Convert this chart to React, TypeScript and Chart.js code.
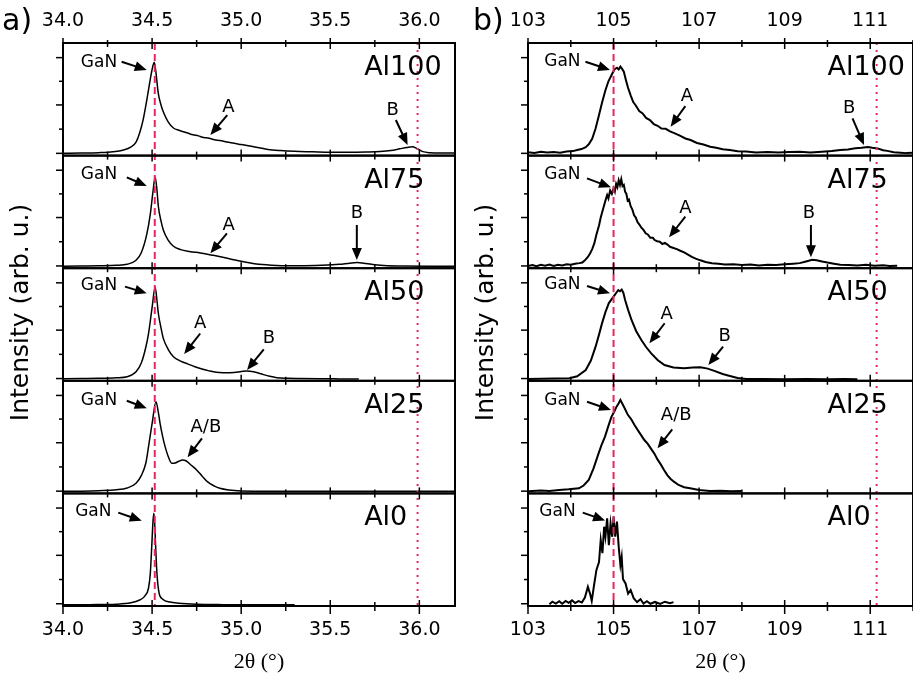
import React, { useEffect, useRef } from 'react';
import { Chart, registerables } from 'chart.js';

Chart.register(...registerables);

// ---------- categories ----------
const SAMPLE_NAMES = ['Al100', 'Al75', 'Al50', 'Al25', 'Al0'];

// ---------- panel a (GaN (002) region) ----------
const A_X_MAJOR = [34.0, 34.5, 35.0, 35.5, 36.0];
const A_X_MINOR = [34.25, 34.75, 35.25, 35.75];
const A_REF_DASH = 34.515;
const A_REF_DOT = 35.99;

const A_AL100_X = [34.0, 34.1, 34.2, 34.28, 34.34, 34.38, 34.41, 34.43, 34.45, 34.47, 34.49, 34.505, 34.512, 34.52, 34.535, 34.55, 34.565, 34.59, 34.62, 34.65, 34.68, 34.7, 34.73, 34.76, 34.79, 34.82, 34.85, 34.88, 34.92, 34.96, 35.0, 35.05, 35.1, 35.15, 35.22, 35.3, 35.4, 35.5, 35.6, 35.7, 35.78, 35.84, 35.89, 35.93, 35.96, 35.99, 36.02, 36.06, 36.12, 36.2];
const A_AL100_Y = [0.02, 0.022, 0.026, 0.034, 0.05, 0.075, 0.12, 0.2, 0.32, 0.49, 0.68, 0.8, 0.83, 0.76, 0.55, 0.45, 0.38, 0.3, 0.245, 0.225, 0.21, 0.2, 0.185, 0.175, 0.16, 0.155, 0.14, 0.135, 0.12, 0.11, 0.098, 0.085, 0.07, 0.055, 0.045, 0.038, 0.034, 0.03, 0.03, 0.032, 0.036, 0.045, 0.06, 0.072, 0.079, 0.06, 0.035, 0.025, 0.022, 0.022];

const A_AL75_X = [34.0, 34.1, 34.2, 34.3, 34.36, 34.41, 34.44, 34.47, 34.49, 34.505, 34.517, 34.527, 34.535, 34.55, 34.563, 34.59, 34.62, 34.66, 34.71, 34.77, 34.83, 34.89, 34.95, 35.02, 35.1, 35.2, 35.33, 35.45, 35.55, 35.61, 35.65, 35.7, 35.75, 35.82, 35.9, 36.05, 36.2];
const A_AL75_Y = [0.018, 0.02, 0.022, 0.026, 0.035, 0.07, 0.14, 0.3, 0.48, 0.68, 0.81, 0.7, 0.55, 0.42, 0.34, 0.25, 0.195, 0.165, 0.148, 0.135, 0.118, 0.1, 0.078, 0.055, 0.035, 0.025, 0.022, 0.026, 0.034, 0.045, 0.05, 0.042, 0.03, 0.022, 0.02, 0.018, 0.018];

const A_AL50_X = [34.0, 34.1, 34.2, 34.3, 34.36, 34.41, 34.44, 34.465, 34.48, 34.5, 34.517, 34.527, 34.535, 34.55, 34.563, 34.59, 34.62, 34.66, 34.7, 34.74, 34.78, 34.82, 34.86, 34.9, 34.96, 35.0, 35.03, 35.07, 35.11, 35.16, 35.2, 35.26, 35.33, 35.45, 35.55, 35.66];
const A_AL50_Y = [0.018, 0.02, 0.022, 0.027, 0.036, 0.08, 0.16, 0.3, 0.42, 0.65, 0.83, 0.72, 0.6, 0.47, 0.377, 0.28, 0.214, 0.175, 0.15, 0.125, 0.105, 0.088, 0.075, 0.072, 0.074, 0.082, 0.087, 0.08, 0.062, 0.04, 0.028, 0.022, 0.02, 0.018, 0.017, 0.016];

const A_AL25_X = [34.0, 34.1, 34.2, 34.3, 34.36, 34.41, 34.44, 34.465, 34.48, 34.5, 34.522, 34.535, 34.545, 34.56, 34.573, 34.59, 34.61, 34.63, 34.65, 34.67, 34.69, 34.72, 34.75, 34.78, 34.81, 34.85, 34.88, 34.93, 35.0, 35.2, 35.5, 35.8, 36.2];
const A_AL25_Y = [0.018, 0.02, 0.024, 0.032, 0.048, 0.09, 0.16, 0.27, 0.415, 0.62, 0.814, 0.72, 0.62, 0.5, 0.415, 0.33, 0.267, 0.27, 0.285, 0.297, 0.29, 0.25, 0.208, 0.155, 0.104, 0.065, 0.045, 0.03, 0.022, 0.019, 0.018, 0.018, 0.018];

const A_AL0_X = [34.0, 34.15, 34.3, 34.38, 34.43, 34.46, 34.48, 34.49, 34.498, 34.505, 34.51, 34.515, 34.52, 34.525, 34.53, 34.54, 34.56, 34.6, 34.65, 34.75, 34.9, 35.1, 35.3];
const A_AL0_Y = [0.01, 0.012, 0.016, 0.028, 0.053, 0.09, 0.16, 0.29, 0.527, 0.75, 0.823, 0.72, 0.527, 0.35, 0.23, 0.11, 0.06, 0.035, 0.025, 0.016, 0.012, 0.01, 0.01];

// ---------- panel b (GaN (004) region) ----------
const B_X_MAJOR = [103, 105, 107, 109, 111];
const B_X_MINOR = [104, 106, 108, 110, 112];
const B_REF_DASH = 105.0;
const B_REF_DOT = 111.15;

const B_AL100_X = [103.0, 103.15, 103.3, 103.45, 103.6, 103.75, 103.9, 104.05, 104.15, 104.25, 104.35, 104.42, 104.5, 104.58, 104.66, 104.73, 104.81, 104.88, 104.96, 105.02, 105.08, 105.12, 105.16, 105.2, 105.24, 105.29, 105.34, 105.4, 105.46, 105.52, 105.6, 105.68, 105.76, 105.85, 105.94, 106.03, 106.12, 106.22, 106.32, 106.42, 106.55, 106.68, 106.8, 106.95, 107.1, 107.26, 107.4, 107.55, 107.72, 107.9, 108.1, 108.33, 108.6, 108.85, 109.1, 109.35, 109.6, 109.87, 110.1, 110.3, 110.48, 110.65, 110.8, 110.94, 111.05, 111.17, 111.3, 111.4, 111.55, 111.71, 111.85, 112.0];
const B_AL100_Y = [0.03, 0.024, 0.034, 0.028, 0.031, 0.026, 0.036, 0.04, 0.05, 0.058, 0.075, 0.1, 0.15, 0.24, 0.36, 0.47, 0.58, 0.66, 0.72, 0.765, 0.78, 0.765, 0.79, 0.77, 0.745, 0.67, 0.6, 0.535, 0.475, 0.445, 0.395, 0.375, 0.335, 0.315, 0.28, 0.265, 0.24, 0.238, 0.215, 0.2, 0.178, 0.152, 0.138, 0.112, 0.098, 0.078, 0.07, 0.056, 0.05, 0.038, 0.036, 0.028, 0.033, 0.027, 0.031, 0.034, 0.028, 0.035, 0.04, 0.05, 0.055, 0.066, 0.07, 0.077, 0.07, 0.064, 0.048, 0.042, 0.03, 0.026, 0.022, 0.025];

const B_AL75_X = [103.0, 103.1, 103.2, 103.3, 103.4, 103.5, 103.6, 103.7, 103.8, 103.9, 104.0, 104.1, 104.2, 104.27, 104.33, 104.4, 104.45, 104.5, 104.55, 104.6, 104.66, 104.7, 104.75, 104.81, 104.85, 104.88, 104.92, 104.96, 105.0, 105.03, 105.06, 105.09, 105.12, 105.15, 105.18, 105.21, 105.24, 105.27, 105.3, 105.33, 105.36, 105.4, 105.44, 105.48, 105.52, 105.56, 105.6, 105.65, 105.7, 105.75, 105.8, 105.86, 105.92, 105.96, 106.02, 106.08, 106.14, 106.2, 106.26, 106.32, 106.4, 106.48, 106.56, 106.65, 106.74, 106.83, 106.92, 107.03, 107.15, 107.3, 107.45, 107.6, 107.8, 108.0, 108.2, 108.4, 108.6, 108.8, 109.0, 109.2, 109.35, 109.5, 109.64, 109.75, 109.87, 110.0, 110.15, 110.3, 110.5, 110.7, 110.9, 111.1, 111.3, 111.45, 111.63];
const B_AL75_Y = [0.02, 0.028, 0.018, 0.03, 0.022, 0.032, 0.02, 0.03, 0.025, 0.035, 0.03, 0.04, 0.045, 0.05, 0.07, 0.1, 0.13, 0.17, 0.22, 0.3, 0.38, 0.45, 0.52, 0.6, 0.65, 0.62, 0.69, 0.66, 0.71, 0.68, 0.75, 0.72, 0.78, 0.74, 0.79, 0.73, 0.74, 0.68, 0.66, 0.6, 0.61, 0.55, 0.52, 0.47, 0.45, 0.41, 0.39, 0.36, 0.34, 0.31, 0.3, 0.27, 0.27, 0.25, 0.24, 0.235, 0.215, 0.225, 0.21, 0.19, 0.18, 0.17, 0.155, 0.14, 0.12, 0.1, 0.085, 0.07, 0.055, 0.045, 0.04, 0.032, 0.035, 0.028, 0.033, 0.025, 0.03, 0.028, 0.035, 0.04, 0.045, 0.06, 0.075, 0.07, 0.06, 0.05, 0.04, 0.03, 0.028, 0.025, 0.03, 0.022, 0.026, 0.02, 0.022];

const B_AL50_X = [103.0, 103.3, 103.6, 103.97, 104.15, 104.35, 104.47, 104.58, 104.66, 104.73, 104.81, 104.89, 105.0, 105.06, 105.11, 105.15, 105.19, 105.23, 105.27, 105.34, 105.42, 105.53, 105.65, 105.76, 105.88, 106.03, 106.19, 106.4, 106.65, 106.85, 107.03, 107.2, 107.34, 107.55, 107.72, 107.9, 108.1, 108.5, 109.0, 109.5, 110.0, 110.4, 110.7];
const B_AL50_Y = [0.015, 0.018, 0.02, 0.022, 0.04, 0.096, 0.18, 0.303, 0.41, 0.51, 0.61, 0.69, 0.747, 0.78, 0.806, 0.795, 0.81, 0.78, 0.718, 0.63, 0.54, 0.44, 0.362, 0.3, 0.244, 0.185, 0.14, 0.118, 0.111, 0.118, 0.12, 0.108, 0.09, 0.06, 0.043, 0.025, 0.015, 0.016, 0.014, 0.016, 0.014, 0.015, 0.014];

const B_AL25_X = [103.0, 103.3, 103.5, 103.73, 103.95, 104.19, 104.3, 104.42, 104.53, 104.65, 104.72, 104.8, 104.88, 104.95, 105.01, 105.07, 105.12, 105.16, 105.2, 105.26, 105.33, 105.41, 105.49, 105.57, 105.64, 105.72, 105.8, 105.87, 105.95, 106.03, 106.1, 106.18, 106.26, 106.33, 106.41, 106.52, 106.65, 106.79, 107.0, 107.25, 107.5, 107.75, 107.99];
const B_AL25_Y = [0.02, 0.025, 0.022, 0.03, 0.036, 0.045, 0.07, 0.119, 0.22, 0.356, 0.43, 0.504, 0.6, 0.68, 0.72, 0.77, 0.8, 0.83, 0.8, 0.756, 0.7, 0.66, 0.607, 0.56, 0.52, 0.474, 0.44, 0.4, 0.356, 0.3, 0.26, 0.208, 0.16, 0.13, 0.104, 0.075, 0.055, 0.045, 0.03, 0.021, 0.024, 0.02, 0.022];

const B_AL0_X = [103.5, 103.57, 103.65, 103.73, 103.8, 103.88, 103.95, 104.03, 104.1, 104.18, 104.26, 104.33, 104.4, 104.45, 104.49, 104.55, 104.6, 104.66, 104.7, 104.74, 104.78, 104.81, 104.85, 104.89, 104.93, 104.97, 105.0, 105.04, 105.08, 105.12, 105.16, 105.19, 105.22, 105.28, 105.34, 105.4, 105.47, 105.55, 105.63, 105.7, 105.78, 105.86, 105.97, 106.09, 106.2, 106.32, 106.4];
const B_AL0_Y = [0.015, 0.038, 0.022, 0.042, 0.02, 0.045, 0.028, 0.05, 0.026, 0.044, 0.032, 0.075, 0.17, 0.11, 0.045, 0.2, 0.32, 0.39, 0.586, 0.47, 0.704, 0.615, 0.778, 0.54, 0.734, 0.615, 0.793, 0.615, 0.75, 0.527, 0.364, 0.438, 0.24, 0.2, 0.11, 0.142, 0.07, 0.035, 0.06, 0.022, 0.042, 0.02, 0.036, 0.018, 0.038, 0.024, 0.034];

// y tick values inside each sub-plot (arbitrary units)
const Y_TICKS = [0.02, 0.235, 0.45, 0.66, 0.87];

// annotations: [subplot, text, textX, textY, arrowFromX, arrowFromY, arrowToX, arrowToY] in data units
type Note = [number, string, number, number, number, number, number, number];
const A_NOTES: Note[] = [
  [0, 'GaN', 34.2017, 0.83, 34.329, 0.834, 34.47, 0.76],
  [0, 'A', 34.928, 0.43, 34.922, 0.36, 34.827, 0.183],
  [0, 'B', 35.85, 0.405, 35.868, 0.316, 35.934, 0.094],
  [1, 'GaN', 34.2017, 0.828, 34.358, 0.807, 34.47, 0.73],
  [1, 'A', 34.93, 0.384, 34.92, 0.31, 34.827, 0.132],
  [1, 'B', 35.649, 0.488, 35.649, 0.384, 35.649, 0.073],
  [2, 'GaN', 34.2017, 0.85, 34.348, 0.836, 34.47, 0.777],
  [2, 'A', 34.77, 0.51, 34.77, 0.42, 34.68, 0.238],
  [2, 'B', 35.155, 0.377, 35.127, 0.28, 35.033, 0.096],
  [3, 'GaN', 34.2017, 0.823, 34.358, 0.823, 34.47, 0.756],
  [3, 'A/B', 34.802, 0.587, 34.78, 0.489, 34.699, 0.32],
  [4, 'GaN', 34.17, 0.837, 34.31, 0.829, 34.442, 0.758],
];
const B_NOTES: Note[] = [
  [0, 'GaN', 103.805, 0.834, 104.343, 0.834, 104.917, 0.76],
  [0, 'A', 106.717, 0.523, 106.678, 0.44, 106.333, 0.257],
  [0, 'B', 110.51, 0.42, 110.586, 0.331, 110.855, 0.094],
  [1, 'GaN', 103.805, 0.828, 104.379, 0.798, 104.94, 0.718],
  [1, 'A', 106.678, 0.532, 106.678, 0.457, 106.297, 0.274],
  [1, 'B', 109.568, 0.488, 109.614, 0.384, 109.614, 0.097],
  [2, 'GaN', 103.805, 0.851, 104.379, 0.842, 104.917, 0.777],
  [2, 'A', 106.241, 0.593, 106.195, 0.511, 105.837, 0.333],
  [2, 'B', 107.598, 0.392, 107.561, 0.303, 107.216, 0.14],
  [3, 'GaN', 103.805, 0.823, 104.379, 0.814, 104.94, 0.741],
  [3, 'A/B', 106.464, 0.696, 106.372, 0.569, 106.028, 0.4],
  [4, 'GaN', 103.69, 0.837, 104.28, 0.829, 104.802, 0.76],
];
const A_NAME_X = 35.69;
const B_NAME_X = 110.0;
const NAME_Y = 0.778;

const RED = 'rgb(232, 40, 92)';
const SANS = '"DejaVu Sans", "Liberation Sans", Arial, sans-serif';

type Panel = {
  letter: string;
  xMin: number; xMax: number; step: number;
  fmt: (v: number) => string;
  curvesX: number[][]; curvesY: number[][];
  major: number[]; minor: number[];
  dash: number; dot: number;
  notes: Note[]; nameX: number;
  leftWidth: number; padRight: number;
  lineWidth: number; smooth: boolean;
  letterDx: number;
};

const PANEL_A: Panel = {
  letter: 'a)', xMin: 34.0, xMax: 36.2, step: 0.5,
  fmt: (v) => v.toFixed(1),
  curvesX: [A_AL100_X, A_AL75_X, A_AL50_X, A_AL25_X, A_AL0_X],
  curvesY: [A_AL100_Y, A_AL75_Y, A_AL50_Y, A_AL25_Y, A_AL0_Y],
  major: A_X_MAJOR, minor: A_X_MINOR, dash: A_REF_DASH, dot: A_REF_DOT,
  notes: A_NOTES, nameX: A_NAME_X, leftWidth: 63, padRight: 5, lineWidth: 1.5, smooth: true,
  letterDx: -61,
};
const PANEL_B: Panel = {
  letter: 'b)', xMin: 103, xMax: 112, step: 1,
  fmt: (v) => (Math.round(v) % 2 === 1 ? String(Math.round(v)) : ''),
  curvesX: [B_AL100_X, B_AL75_X, B_AL50_X, B_AL25_X, B_AL0_X],
  curvesY: [B_AL100_Y, B_AL75_Y, B_AL50_Y, B_AL25_Y, B_AL0_Y],
  major: B_X_MAJOR, minor: B_X_MINOR, dash: B_REF_DASH, dot: B_REF_DOT,
  notes: B_NOTES, nameX: B_NAME_X, leftWidth: 68, padRight: 6, lineWidth: 2, smooth: false,
  letterDx: -55,
};

function seg(ctx: CanvasRenderingContext2D, x1: number, y1: number, x2: number, y2: number) {
  ctx.beginPath();
  ctx.moveTo(x1, y1);
  ctx.lineTo(x2, y2);
  ctx.stroke();
}

function arrow(ctx: CanvasRenderingContext2D, x1: number, y1: number, x2: number, y2: number) {
  const ang = Math.atan2(y2 - y1, x2 - x1);
  const hl = 12, hw = 5;
  const bx = x2 - hl * Math.cos(ang);
  const by = y2 - hl * Math.sin(ang);
  ctx.lineWidth = 2;
  seg(ctx, x1, y1, bx + 2 * Math.cos(ang), by + 2 * Math.sin(ang));
  ctx.beginPath();
  ctx.moveTo(x2, y2);
  ctx.lineTo(bx + hw * Math.sin(ang), by - hw * Math.cos(ang));
  ctx.lineTo(bx - hw * Math.sin(ang), by + hw * Math.cos(ang));
  ctx.closePath();
  ctx.fill();
}

function decorPlugin(p: Panel) {
  return {
    id: 'decor' + p.letter,
    afterDatasetsDraw(chart: any) {
      const ctx: CanvasRenderingContext2D = chart.ctx;
      const area = chart.chartArea;
      const xs = chart.scales.x;
      ctx.save();
      // reference lines
      ctx.strokeStyle = RED;
      ctx.lineWidth = 2;
      ctx.setLineDash([7, 4]);
      const pd = xs.getPixelForValue(p.dash);
      seg(ctx, pd, area.top, pd, area.bottom);
      ctx.setLineDash([2, 5]);
      const pt = xs.getPixelForValue(p.dot);
      seg(ctx, pt, area.top, pt, area.bottom);
      ctx.setLineDash([]);

      ctx.strokeStyle = '#000';
      ctx.fillStyle = '#000';
      const ticks = [
        ...p.major.map((v) => [v, 1]),
        ...p.minor.map((v) => [v, 0]),
      ];
      SAMPLE_NAMES.forEach((name, i) => {
        const ys = chart.scales['y' + i];
        ctx.lineWidth = 2;
        ctx.strokeRect(area.left, ys.top, area.right - area.left, ys.bottom - ys.top);
        ctx.lineWidth = 1.5;
        ticks.forEach(([v, m]) => {
          const px = xs.getPixelForValue(v);
          const len = m ? 6 : 4;
          seg(ctx, px, ys.top, px, ys.top + len);
          seg(ctx, px, ys.bottom, px, ys.bottom - len);
        });
        Y_TICKS.forEach((v, k) => {
          const py = ys.getPixelForValue(v);
          const len = k % 2 === 0 ? 7 : 4;
          seg(ctx, area.left - len, py, area.left, py);
        });
        ctx.font = '27px ' + SANS;
        ctx.textAlign = 'left';
        ctx.textBaseline = 'middle';
        ctx.fillText(name, xs.getPixelForValue(p.nameX), ys.getPixelForValue(NAME_Y));
      });
      // outer ticks on top & bottom axes
      ctx.lineWidth = 1.5;
      ticks.forEach(([v, m]) => {
        const px = xs.getPixelForValue(v);
        seg(ctx, px, area.top - (m ? 5 : 3), px, area.top);
        seg(ctx, px, area.bottom, px, area.bottom + (m ? 8 : 5));
      });
      // annotations
      p.notes.forEach(([i, text, tx, ty, fx, fy, ax, ay]) => {
        const ys = chart.scales['y' + i];
        ctx.font = (text === 'GaN' ? '17px ' : '18px ') + SANS;
        ctx.textAlign = 'center';
        ctx.textBaseline = 'middle';
        ctx.fillText(text, xs.getPixelForValue(tx), ys.getPixelForValue(ty));
        arrow(ctx, xs.getPixelForValue(fx), ys.getPixelForValue(fy), xs.getPixelForValue(ax), ys.getPixelForValue(ay));
      });
      // panel letter
      ctx.font = '30px ' + SANS;
      ctx.textAlign = 'left';
      ctx.textBaseline = 'middle';
      ctx.fillText(p.letter, area.left + p.letterDx, area.top - 21);
      // y title
      ctx.save();
      ctx.translate(area.left - 42, (area.top + area.bottom) / 2 - 12);
      ctx.rotate(-Math.PI / 2);
      ctx.font = '25px ' + SANS;
      ctx.textAlign = 'center';
      ctx.textBaseline = 'middle';
      ctx.fillText('Intensity (arb. u.)', 0, 0);
      ctx.restore();
      ctx.restore();
    },
  };
}

function buildChart(canvas: HTMLCanvasElement, p: Panel) {
  const datasets = p.curvesX.map((xsArr, i) => ({
    data: xsArr.map((x, k) => ({ x, y: p.curvesY[i][k] })).filter((d) => d.y !== undefined),
    yAxisID: 'y' + i,
    borderColor: '#000',
    borderWidth: p.lineWidth,
    pointRadius: 0,
    fill: false,
    tension: p.smooth ? 0.4 : 0,
    cubicInterpolationMode: p.smooth ? 'monotone' : 'default',
  }));
  const yScales: any = {};
  SAMPLE_NAMES.forEach((_, i) => {
    yScales['y' + i] = {
      type: 'linear',
      position: 'left',
      stack: 'panel',
      stackWeight: 1,
      weight: SAMPLE_NAMES.length - i,
      min: 0,
      max: 1,
      ticks: { display: false },
      grid: { display: false, drawTicks: false },
      border: { display: false },
      afterFit: (s: any) => { s.width = p.leftWidth; },
    };
  });
  const tickCommon = {
    stepSize: p.step,
    autoSkip: false,
    maxRotation: 0,
    includeBounds: false,
    color: '#000',
    callback: (v: any) => p.fmt(Number(v)),
  };
  return new Chart(canvas, {
    type: 'line',
    data: { datasets: datasets as any },
    options: {
      responsive: false,
      animation: false,
      events: [],
      layout: { padding: { left: 0, right: p.padRight, top: 0, bottom: 0 } },
      plugins: { legend: { display: false }, tooltip: { enabled: false } },
      scales: {
        x: {
          type: 'linear',
          position: 'bottom',
          min: p.xMin,
          max: p.xMax,
          grid: { display: false, drawTicks: false },
          border: { display: false },
          ticks: { ...tickCommon, padding: 13, font: { family: SANS, size: 19 } },
          title: {
            display: true,
            text: '2θ (°)',
            color: '#000',
            font: { family: '"Liberation Serif", "DejaVu Serif", serif', size: 22 },
            padding: { top: 0, bottom: 5 },
          },
          afterFit: (s: any) => { s.height = 74; },
        },
        xTop: {
          type: 'linear',
          position: 'top',
          min: p.xMin,
          max: p.xMax,
          grid: { display: false, drawTicks: false },
          border: { display: false },
          ticks: { ...tickCommon, padding: 11, font: { family: SANS, size: 19 } },
          afterFit: (s: any) => { s.height = 43; },
        },
        ...yScales,
      },
    } as any,
    plugins: [decorPlugin(p)],
  });
}

export default function App() {
  const refA = useRef<HTMLCanvasElement>(null);
  const refB = useRef<HTMLCanvasElement>(null);
  useEffect(() => {
    const ca = buildChart(refA.current!, PANEL_A);
    const cb = buildChart(refB.current!, PANEL_B);
    return () => { ca.destroy(); cb.destroy(); };
  }, []);
  return (
    <div style={{ position: 'absolute', left: 0, top: 0, width: 913, height: 680, overflow: 'hidden', background: '#fff' }}>
      <div style={{ position: 'absolute', left: 0, top: 0, width: 460, height: 680 }}>
        <canvas ref={refA} width={460} height={680} style={{ display: 'block' }} />
      </div>
      <div style={{ position: 'absolute', left: 460, top: 0, width: 466, height: 680 }}>
        <canvas ref={refB} width={466} height={680} style={{ display: 'block' }} />
      </div>
    </div>
  );
}
